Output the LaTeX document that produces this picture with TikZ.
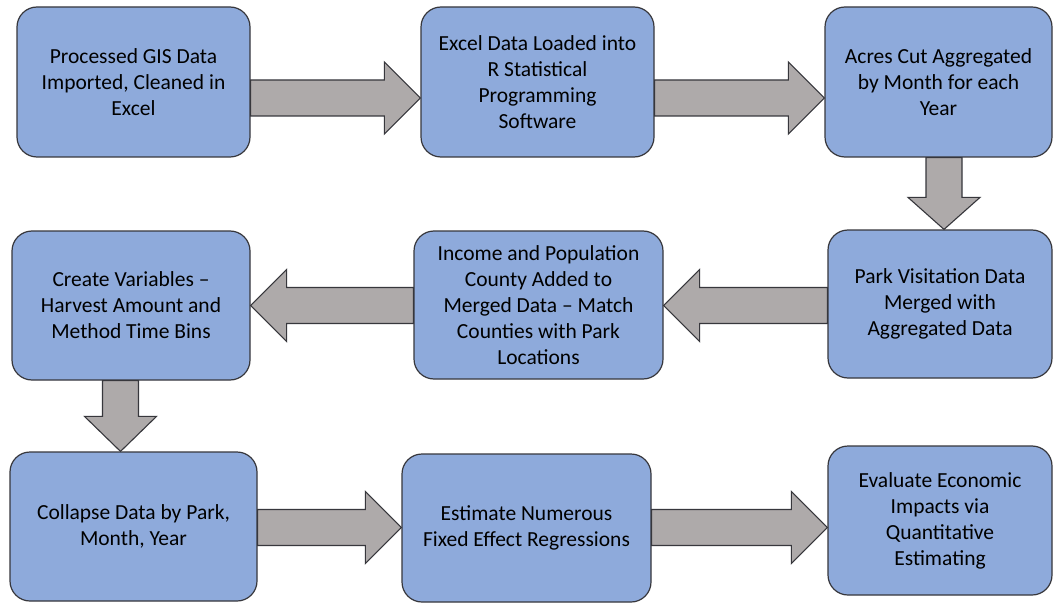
\documentclass[tikz,border=0pt]{standalone}
\usepackage{fontspec}
\setmainfont{Carlito}
\usetikzlibrary{calc}
\definecolor{boxfill}{RGB}{142,170,219}
\definecolor{boxline}{RGB}{55,55,60}
\definecolor{arrfill}{RGB}{174,170,170}
\tikzset{
  procbox/.style={draw=boxline, fill=boxfill, line width=1.2pt, rounded corners=20pt,
    align=center, inner sep=0pt, font=\fontsize{21.5}{26}\selectfont},
  blk/.style={draw=boxline, fill=arrfill, line width=1.1pt, line join=miter}
}
% right-pointing block arrow: #1 source, #2 target, #3 centre y
\newcommand\blkright[3]{%
  \draw[blk] let \p1=(#1.east), \p2=(#2.west) in
    (\x1,{-(#3-18)}) -- ({\x2-36pt},{-(#3-18)}) -- ({\x2-36pt},{-(#3-36)}) -- (\x2,{-#3})
    -- ({\x2-36pt},{-(#3+36)}) -- ({\x2-36pt},{-(#3+18)}) -- (\x1,{-(#3+18)}) -- cycle;}
% left-pointing block arrow: #1 source, #2 target, #3 centre y
\newcommand\blkleft[3]{%
  \draw[blk] let \p1=(#1.west), \p2=(#2.east) in
    (\x1,{-(#3-18)}) -- ({\x2+36pt},{-(#3-18)}) -- ({\x2+36pt},{-(#3-36)}) -- (\x2,{-#3})
    -- ({\x2+36pt},{-(#3+36)}) -- ({\x2+36pt},{-(#3+18)}) -- (\x1,{-(#3+18)}) -- cycle;}
% down-pointing block arrow: #1 source, #2 target, #3 centre x, #4 head length
\newcommand\blkdown[4]{%
  \draw[blk] let \p1=(#1.south), \p2=(#2.north) in
    ({#3-18},\y1) -- ({#3-18},{\y2+#4pt}) -- ({#3-36},{\y2+#4pt}) -- (#3,\y2)
    -- ({#3+36},{\y2+#4pt}) -- ({#3+18},{\y2+#4pt}) -- ({#3+18},\y1) -- cycle;}
\begin{document}
\begin{tikzpicture}[x=1pt,y=1pt]
\useasboundingbox (0,0) rectangle (1054,-604);
\fill[white] (0,0) rectangle (1054,-604);
% row 1
\node[procbox, minimum width=233pt, minimum height=150pt] (b1) at (133.5,-82)
  {Processed GIS Data\\Imported, Cleaned in\\Excel};
\node[procbox, minimum width=233pt, minimum height=150pt] (b2) at (537.5,-82)
  {Excel Data Loaded into\\R Statistical\\Programming\\Software};
\node[procbox, minimum width=227pt, minimum height=150pt] (b3) at (938.5,-82)
  {Acres Cut Aggregated\\by Month for each\\Year};
% row 2
\node[procbox, minimum width=238pt, minimum height=149pt] (b4) at (131,-305.5)
  {Create Variables --\\Harvest Amount and\\Method Time Bins};
\node[procbox, minimum width=249pt, minimum height=148pt] (b5) at (538.5,-305)
  {Income and Population\\County Added to\\Merged Data -- Match\\Counties with Park\\Locations};
\node[procbox, minimum width=224pt, minimum height=148pt] (b6) at (940,-304)
  {Park Visitation Data\\Merged with\\Aggregated Data};
% row 3
\node[procbox, minimum width=247pt, minimum height=149pt] (b7) at (133.5,-526.5)
  {Collapse Data by Park,\\Month, Year};
\node[procbox, minimum width=249pt, minimum height=148pt] (b8) at (526.5,-528)
  {Estimate Numerous\\Fixed Effect Regressions};
\node[procbox, minimum width=224pt, minimum height=149pt] (b9) at (940,-520.5)
  {Evaluate Economic\\Impacts via\\Quantitative\\Estimating};
% connectors
\blkright{b1}{b2}{98}
\blkright{b2}{b3}{98}
\blkdown{b3}{b6}{944}{32}
\blkleft{b6}{b5}{305.5}
\blkleft{b5}{b4}{305.5}
\blkdown{b4}{b7}{120.5}{35}
\blkright{b7}{b8}{527.5}
\blkright{b8}{b9}{527.5}
\end{tikzpicture}
\end{document}
